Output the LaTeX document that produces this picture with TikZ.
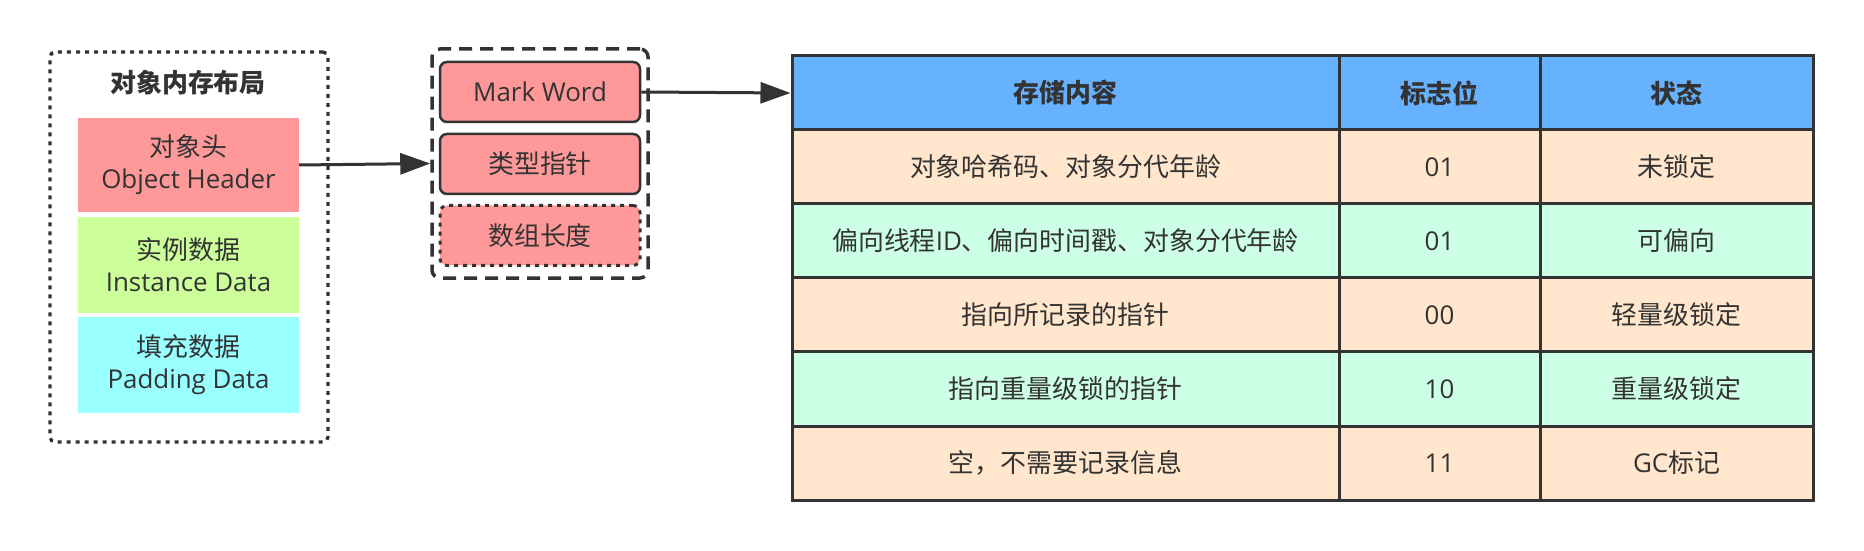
\documentclass[tikz,border=0pt]{standalone}
\usepackage{fontspec}
\setmainfont{Noto Sans CJK SC}
\newfontfamily\lat{Open Sans}
\usetikzlibrary{arrows.meta}
\definecolor{ink}{HTML}{333333}
\definecolor{redf}{HTML}{FF9999}
\definecolor{greenf}{HTML}{CCFF99}
\definecolor{cyanf}{HTML}{99FFFF}
\definecolor{bluef}{HTML}{66B2FF}
\definecolor{peachf}{HTML}{FFE6CC}
\definecolor{mintf}{HTML}{CCFFE6}
\tikzset{
  layer/.style={minimum width=221bp, minimum height=94bp, inner sep=0pt, align=center,
    font=\fontsize{26}{32}\selectfont, text=ink},
  part/.style={draw=ink, line width=2.5bp, fill=redf, rounded corners=7bp, minimum width=200bp,
    minimum height=60bp, inner sep=0pt, font=\fontsize{26}{30}\selectfont, text=ink},
  cell/.style={draw=ink, line width=3bp, inner sep=0pt, minimum height=74bp,
    font=\fontsize{26}{30}\selectfont, text=ink},
  hcell/.style={cell, fill=bluef, font=\fontsize{26}{30}\selectfont\bfseries},
  pcell/.style={cell, fill=peachf},
  mcell/.style={cell, fill=mintf},
  conn/.style={draw=ink, line width=3bp, -{Triangle[length=30bp,width=21bp]}},
}
\begin{document}
\begin{tikzpicture}[x=1bp,y=-1bp]
\useasboundingbox[fill=white] (0,0) rectangle (1864,551);

% left: object memory layout
\node[draw=ink, line width=3.3bp, dash pattern=on 4bp off 5bp, rounded corners=5bp,
  minimum width=278bp, minimum height=390bp, inner sep=0pt] (lay) at (189,247) {};
\node[font=\fontsize{26}{30}\selectfont\bfseries, text=ink] (title) at (188,83) {对象内存布局};
\node[layer, fill=redf] (oh) at (188.5,165) {对象头\\{\lat Object Header}};
\node[layer, fill=greenf, minimum height=96bp] (idt) at (188.5,265) {实例数据\\{\lat Instance Data}};
\node[layer, fill=cyanf, minimum height=96bp] (pdd) at (188.5,365) {填充数据\\{\lat Padding Data}};

% middle: object header parts
\node[draw=ink, line width=3.5bp, dash pattern=on 13bp off 8bp, rounded corners=8bp,
  minimum width=216bp, minimum height=229bp, inner sep=0pt] (hdr) at (540,163.5) {};
\node[part] (mw) at (540,92) {\lat Mark Word};
\node[part] (kp) at (540,164) {类型指针};
\node[part, dash pattern=on 4bp off 5bp, line width=3bp] (al) at (540,235.5) {数组长度};

% table
\node[hcell, minimum width=547bp] (h1) at (1065.5,93) {存储内容};
\node[hcell, minimum width=201bp] (h2) at (1439.5,93) {标志位};
\node[hcell, minimum width=273bp] (h3) at (1676.5,93) {状态};

\node[pcell, minimum width=547bp] (a1) at (1065.5,167) {对象哈希码、对象分代年龄};
\node[pcell, minimum width=201bp] (a2) at (1439.5,167) {\lat 01};
\node[pcell, minimum width=273bp] (a3) at (1676.5,167) {未锁定};

\node[mcell, minimum width=547bp] (b1) at (1065.5,241) {偏向线程{\lat ID}、偏向时间戳、对象分代年龄};
\node[mcell, minimum width=201bp] (b2) at (1439.5,241) {\lat 01};
\node[mcell, minimum width=273bp] (b3) at (1676.5,241) {可偏向};

\node[pcell, minimum width=547bp] (c1) at (1065.5,315) {指向所记录的指针};
\node[pcell, minimum width=201bp] (c2) at (1439.5,315) {\lat 00};
\node[pcell, minimum width=273bp] (c3) at (1676.5,315) {轻量级锁定};

\node[mcell, minimum width=547bp] (d1) at (1065.5,389) {指向重量级锁的指针};
\node[mcell, minimum width=201bp] (d2) at (1439.5,389) {\lat 10};
\node[mcell, minimum width=273bp] (d3) at (1676.5,389) {重量级锁定};

\node[pcell, minimum width=547bp] (e1) at (1065.5,463) {空，不需要记录信息};
\node[pcell, minimum width=201bp] (e2) at (1439.5,463) {\lat 11};
\node[pcell, minimum width=273bp] (e3) at (1676.5,463) {{\lat GC}标记};

% connectors
\draw[conn] (oh.east) -- (hdr.west);
\draw[conn] (mw.east) -- (h1.west);
\end{tikzpicture}
\end{document}
